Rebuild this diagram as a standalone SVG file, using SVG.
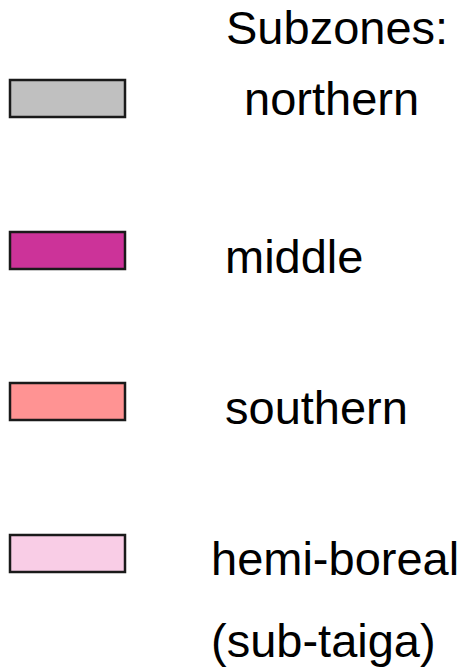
<svg xmlns="http://www.w3.org/2000/svg" width="466" height="672" viewBox="0 0 466 672">
<style>
.sw{stroke:#1a1a1a;stroke-width:2.5}
.t{font-family:"Liberation Sans",Arial,sans-serif;font-size:47px;fill:#000}
</style>
<rect width="466" height="672" fill="#fff"/>
<g id="title"><text class="t" x="226" y="44">Subzones:</text></g>
<g id="northern"><rect class="sw" x="10" y="80" width="115" height="37" fill="#c0c0c0"/><text class="t" x="244" y="115">northern</text></g>
<g id="middle"><rect class="sw" x="10" y="232" width="115" height="37" fill="#cc3399"/><text class="t" x="225" y="273">middle</text></g>
<g id="southern"><rect class="sw" x="10" y="383" width="115" height="37" fill="#ff9393"/><text class="t" x="225" y="424">southern</text></g>
<g id="hemi-boreal"><rect class="sw" x="10" y="535" width="115" height="37" fill="#f9cde6"/><text class="t" x="211" y="575">hemi-boreal</text><text class="t" x="211" y="657">(sub-taiga)</text></g>
<g id="connectors"/>
</svg>
